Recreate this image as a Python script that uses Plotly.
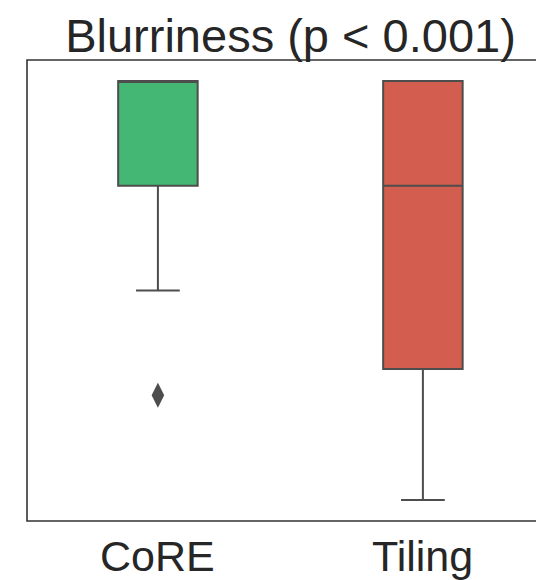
import plotly.graph_objects as go

categories = ["CoRE", "Tiling"]
q1_vals = [4.0, 2.25]
median_vals = [5.0, 4.0]
q3_vals = [5.0, 5.0]
lower_whisker = [3.0, 1.0]
upper_whisker = [5.0, 5.0]
fill_colors = ["#43b773", "#d35e4f"]
outlier_cats = ["CoRE"]
outlier_vals = [2.0]

fig = go.Figure()
for i, cat in enumerate(categories):
    fig.add_trace(go.Box(
        x=[cat], q1=[q1_vals[i]], median=[median_vals[i]], q3=[q3_vals[i]],
        lowerfence=[lower_whisker[i]], upperfence=[upper_whisker[i]],
        boxpoints=False, width=0.3, whiskerwidth=0.55,
        fillcolor=fill_colors[i], line=dict(color="#4d4d4d", width=2),
        showlegend=False, hoverinfo="skip",
    ))

fig.add_trace(go.Scatter(
    x=outlier_cats, y=outlier_vals, mode="markers",
    marker=dict(symbol="diamond-tall", size=18, color="#4d4d4d"),
    showlegend=False, hoverinfo="skip",
))

# category labels under the axis
for cat in categories:
    fig.add_annotation(x=cat, xref="x", y=0, yref="paper", text=cat, showarrow=False,
                       xanchor="center", yanchor="top", yshift=-9,
                       font=dict(size=43, color="#262626"))

# frame (right side extends beyond the window)
fig.add_shape(type="rect", xref="paper", yref="paper", x0=0, x1=1.05, y0=0, y1=1,
              line=dict(color="#333333", width=1.6), fillcolor="rgba(0,0,0,0)", layer="above")

W, H = 536, 572
fig.update_layout(
    width=W, height=H,
    margin=dict(l=19, r=0, t=52, b=59, pad=0, autoexpand=False),
    paper_bgcolor="white", plot_bgcolor="white",
    font=dict(family="Liberation Sans, Arial, sans-serif", color="#262626"),
    title=dict(text="Blurriness (p < 0.001)", font=dict(size=47, color="#262626"),
               xref="paper", x=0.5097, xanchor="center",
               yref="container", y=(H - 28) / H, yanchor="middle"),
    xaxis=dict(type="category", categoryorder="array", categoryarray=categories,
               range=[-0.494, 1.457], showgrid=False, zeroline=False, showline=False,
               showticklabels=False, ticks="", automargin=False),
    yaxis=dict(range=[0.8, 5.2], showgrid=False, zeroline=False, showline=False,
               showticklabels=False, ticks="", automargin=False),
)

fig.write_html("out.html")
